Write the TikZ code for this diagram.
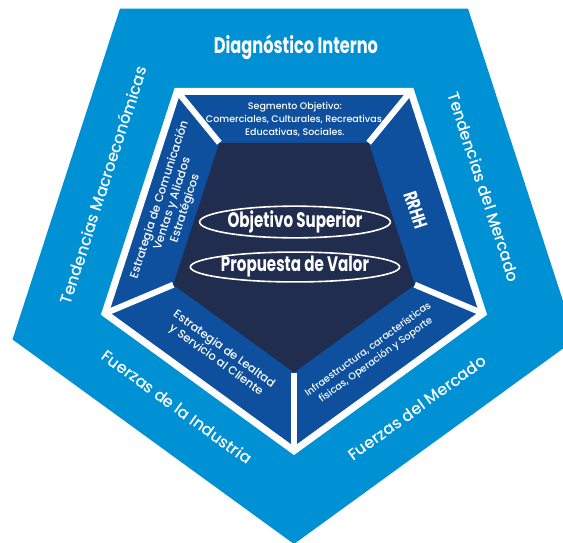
\documentclass[tikz,border=0pt]{standalone}
\usepackage{fontspec}
\setmainfont{Poppins}[UprightFont=* Medium, BoldFont=* SemiBold]
\newfontfamily\narrowfont{Poppins}[UprightFont=* Bold, FakeStretch=0.72]
\usepackage{xcolor}
\usetikzlibrary{shapes.geometric}
\definecolor{sky}{RGB}{0,144,212}
\definecolor{royal}{RGB}{14,80,158}
\definecolor{navy}{RGB}{33,45,78}
\tikzset{
    outer-label/.style = {text=white, inner sep=0pt, font=\fontsize{16}{18}\selectfont},
    inner-label/.style = {text=white, inner sep=0pt, align=center, font=\fontsize{9.5}{13}\selectfont},
    wide-label/.style = {inner-label, font=\fontsize{11.5}{13.5}\selectfont},
    head-label/.style = {text=white, inner sep=0pt, font=\narrowfont\fontsize{22.5}{26}\selectfont},
    core-oval/.style = {draw=white, line width=1.6pt, ellipse, inner sep=0pt, minimum width=178pt, minimum height=28pt, text=white, font=\narrowfont\fontsize{21}{24}\selectfont},
}

\begin{document}
\begin{tikzpicture}[x=1pt, y=1pt]
\useasboundingbox (0,0) rectangle (563,-542);
\coordinate (oc) at (294,-248);
\coordinate (mc) at (294,-252);
\coordinate (dc) at (294,-245.5);
\foreach \a [count=\i] in {54,126,198,270,342} {
    \coordinate (o\i) at ([shift={(\a:296)}]oc);
    \coordinate (m\i) at ([shift={(\a:198.7)}]mc);
    \coordinate (d\i) at ([shift={(\a:127)}]dc);
}
\begin{scope}
\clip (0,0) rectangle (563,-542);
\fill[sky] (o1) -- (o2) -- (o3) -- (o4) -- (o5) -- cycle;
\end{scope}
\filldraw[fill=royal, draw=white, line width=7pt] (m1) -- (m2) -- (m3) -- (m4) -- (m5) -- cycle;
\foreach \i in {1,...,5}
    \draw[white, line width=6pt] (m\i) -- (d\i);
\fill[navy] (d1) -- (d2) -- (d3) -- (d4) -- (d5) -- cycle;

% outer ring
\node[head-label] (diag) at (296,-47) {Diagnóstico Interno};
\node[outer-label, rotate=72] (tmacro) at (103,-185) {Tendencias Macroeconómicas};
\node[outer-label, rotate=-72] (tmerc) at (484,-187) {Tendencias del Mercado};
\node[outer-label, rotate=-36] (findus) at (177,-407) {Fuerzas de la Industria};
\node[outer-label, rotate=36] (fmerc) at (417,-408) {Fuerzas del Mercado};

% inner ring
\node[inner-label] (segm) at (295,-119) {Segmento Objetivo:\\Comerciales, Culturales, Recreativas,\\Educativas, Sociales.};
\node[wide-label, rotate=72] (comun) at (172.5,-204) {Estrategia de Comunicación\\Ventas y Aliados\\Estratégicos};
\node[head-label, font=\narrowfont\fontsize{19}{22}\selectfont, rotate=-72] (rrhh) at (416,-210) {RRHH};
\node[wide-label, rotate=-36] (lealtad) at (220,-355) {Estrategia de Lealtad\\y Servicio al Cliente};
\node[inner-label, font=\fontsize{9.8}{13}\selectfont, rotate=36] (infra) at (372,-355) {Infraestructura, características\\físicas, Operación y Soporte};

% core
\node[core-oval] (objetivo) at (295,-222) {Objetivo Superior};
\node[core-oval] (propuesta) at (295,-267) {Propuesta de Valor};
\end{tikzpicture}
\end{document}
